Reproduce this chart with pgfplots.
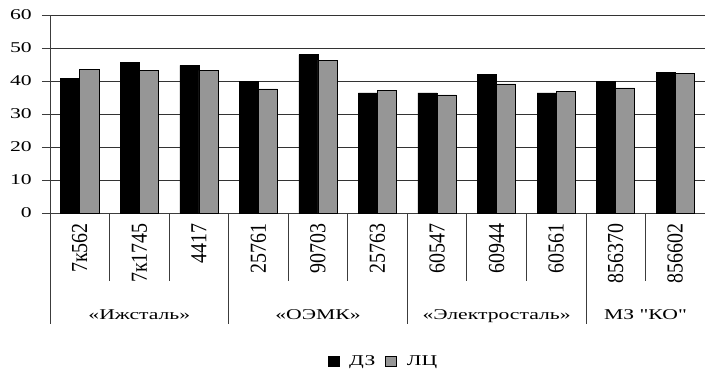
\documentclass[border=0pt]{standalone}
\usepackage{pgfplots}
\pgfplotsset{compat=1.18}
\usepackage{fontspec}
\setmainfont{Liberation Serif}[FakeStretch=1.45]
\newfontfamily\rotfont{Liberation Serif}[FakeStretch=0.87]
\newfontfamily\qfont{Liberation Serif}[FakeStretch=1.45,Ligatures=TeXOff]
\definecolor{barg}{RGB}{150,150,150}
\definecolor{linec}{RGB}{60,60,60}
\begin{document}
\begin{tikzpicture}
\begin{axis}[
  scale only axis,
  width=655bp, height=198bp,
  ybar=0pt, bar width=0.32,
  xmin=-0.5, xmax=10.5,
  ymin=0, ymax=60,
  ytick={0,10,...,60},
  xtick={0,...,10},
  xticklabels={7к562,7к1745,4417,25761,90703,25763,60547,60944,60561,856370,856602},
  axis x line=bottom, axis y line=left,
  axis line style={-, linec, line width=0.8bp},
  ymajorgrids, grid style={black!80, line width=0.8bp},
  ytick style={linec, line width=0.8bp},
  major tick length=8bp, tick align=outside,
  xtick style={draw=none},
  /pgf/number format/assume math mode=true,
  yticklabel style={font=\fontsize{15}{16}\selectfont, inner sep=0pt, xshift=-10bp},
  xticklabel style={font=\rotfont\fontsize{23}{24}\selectfont, rotate=90, anchor=east, inner sep=0pt},
  xticklabel shift=2bp,
  clip=false,
  legend style={at={(0.5076,-0.747)}, anchor=center, draw=none, fill=none,
    font=\fontsize{15}{16}\selectfont, legend columns=-1,
    nodes={inner sep=0pt},
    /tikz/every odd column/.append style={column sep=10bp},
    /tikz/every even column/.append style={column sep=10bp}},
]
\addplot[fill=black, draw=black, line width=0.6bp,
  legend image code/.code={\draw[fill=black,draw=black] (0bp,-5bp) rectangle (11bp,5bp);}]
  coordinates {(0,40.8) (1,45.7) (2,44.7) (3,40.0) (4,48.0) (5,36.4) (6,36.4) (7,42.0) (8,36.4) (9,39.8) (10,42.7)};
\addplot[fill=barg, draw=black, line width=0.6bp,
  legend image code/.code={\draw[fill=barg,draw=black,line width=0.6bp] (0bp,-5bp) rectangle (11bp,5bp);}]
  coordinates {(0,43.5) (1,43.2) (2,43.2) (3,37.6) (4,46.3) (5,37.2) (6,35.8) (7,39.1) (8,36.8) (9,37.9) (10,42.2)};
\legend{ДЗ,ЛЦ}
\pgfplotsinvokeforeach{0.5,1.5,3.5,4.5,6.5,7.5,9.5}{
  \draw[linec, line width=0.8bp] (axis cs:#1,0) -- ([yshift=-68bp]axis cs:#1,0);
}
\pgfplotsinvokeforeach{-0.5,2.5,5.5,8.5}{
  \draw[linec, line width=0.8bp] (axis cs:#1,0) -- ([yshift=-111bp]axis cs:#1,0);
}
\node[anchor=base, inner sep=0pt, font=\fontsize{15}{16}\selectfont] at ([yshift=-106bp]axis cs:1,0) {«Ижсталь»};
\node[anchor=base, inner sep=0pt, font=\fontsize{15}{16}\selectfont] at ([yshift=-106bp]axis cs:4,0) {«ОЭМК»};
\node[anchor=base, inner sep=0pt, font=\fontsize{15}{16}\selectfont] at ([yshift=-106bp]axis cs:7,0) {«Электросталь»};
\node[anchor=base, inner sep=0pt, font=\qfont\fontsize{15}{16}\selectfont] at ([yshift=-106bp]axis cs:9.5,0) {МЗ "КО"};
\end{axis}
\pgfresetboundingbox
\path[use as bounding box] (-50bp,-163bp) rectangle (656bp,213bp);
\end{tikzpicture}
\end{document}
